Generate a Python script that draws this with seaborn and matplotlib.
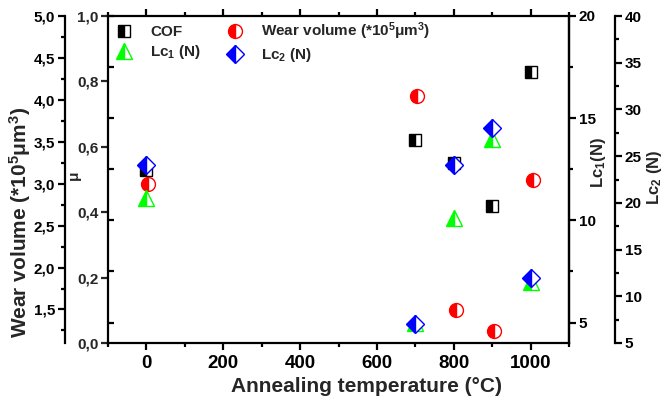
import matplotlib
matplotlib.use("Agg")
import matplotlib.pyplot as plt
import numpy as np
import pandas as pd
import seaborn as sns
from matplotlib.ticker import FuncFormatter, MultipleLocator, FixedLocator

# ---- data ----
temperature = [0, 700, 800, 900, 1000]
wear_temperature = [5, 705, 805, 905, 1005]
cof = [0.53, 0.62, 0.55, 0.42, 0.83]
wear_volume = [3.00, 4.04, 1.49, 1.24, 3.04]
lc1 = [11.1, 5.0, 10.1, 14.0, 7.0]
lc2 = [24.0, 7.0, 24.0, 28.0, 12.0]

x_ticks = [0, 200, 400, 600, 800, 1000]
mu_ticks = [0.0, 0.2, 0.4, 0.6, 0.8, 1.0]
wear_ticks = [1.5, 2.0, 2.5, 3.0, 3.5, 4.0, 4.5, 5.0]
lc1_ticks = [5, 10, 15, 20]
lc2_ticks = [5, 10, 15, 20, 25, 30, 35, 40]

labels = {
    "cof": "COF",
    "wear": "Wear volume (*10$^5$\u03bcm$^3$)",
    "lc1": "Lc$_1$ (N)",
    "lc2": "Lc$_2$ (N)",
}

sns.set_theme(style="white")
plt.rcParams["font.family"] = ["Liberation Sans", "DejaVu Sans"]
plt.rcParams["font.weight"] = "bold"
plt.rcParams["axes.labelweight"] = "bold"
plt.rcParams["mathtext.fontset"] = "custom"
plt.rcParams["mathtext.rm"] = "Liberation Sans:bold"
plt.rcParams["mathtext.it"] = "Liberation Sans:bold"
plt.rcParams["mathtext.bf"] = "Liberation Sans:bold"
plt.rcParams["mathtext.default"] = "bf"

df = pd.DataFrame({"temperature": temperature, "cof": cof, "lc1": lc1, "lc2": lc2})
dfw = pd.DataFrame({"temperature": wear_temperature, "wear": wear_volume})

W, H = 667, 404
fig = plt.figure(figsize=(W / 100, H / 100), dpi=100)
L, R, T, B = 108, 569, 16, 343
ax = fig.add_axes([L / W, 1 - B / H, (R - L) / W, (B - T) / H])
ax.set_facecolor("white")

comma = FuncFormatter(lambda v, p: f"{v:.1f}".replace(".", ","))
intfmt = FuncFormatter(lambda v, p: f"{v:.0f}")
SPW = 1.6

# main axis: COF (mu)
sns.lineplot(data=df, x="temperature", y="cof", ax=ax, marker="s", linestyle="",
             markersize=9, fillstyle="left", color="black", markerfacecoloralt="white",
             markeredgecolor="black", markeredgewidth=1.0, label=labels["cof"],
             legend=False, sort=False)
ax.set_xlim(-100, 1100)
ax.set_ylim(0, 1.0)
ax.xaxis.set_major_locator(FixedLocator(x_ticks))
ax.xaxis.set_minor_locator(MultipleLocator(100))
ax.yaxis.set_major_locator(FixedLocator(mu_ticks))
ax.yaxis.set_major_formatter(comma)
ax.tick_params(axis="x", which="both", direction="out", bottom=True, top=True,
               labeltop=False, width=SPW, colors="black")
ax.tick_params(axis="x", which="major", length=5, labelsize=13.5, pad=4)
ax.tick_params(axis="x", which="minor", length=3)
ax.tick_params(axis="y", which="major", direction="out", left=True, right=False,
               length=5, width=SPW, labelsize=11, pad=2)
for s in ax.spines.values():
    s.set_linewidth(SPW)
    s.set_color("black")
ax.set_xlabel("Annealing temperature (\u00b0C)", fontsize=15, fontweight="bold")
ax.xaxis.set_label_coords(0.56, -0.105)
ax.set_ylabel("\u03bc", fontsize=11, fontweight="bold")
ax.yaxis.set_label_coords(-0.074, 0.514)
ax.yaxis.label.set_verticalalignment("center")

# wear volume axis (outer left)
ax_w = ax.twinx()
sns.lineplot(data=dfw, x="temperature", y="wear", ax=ax_w, marker="o", linestyle="",
             markersize=10, fillstyle="left", color="red", markerfacecoloralt="white",
             markeredgecolor="red", markeredgewidth=1.0, label=labels["wear"],
             legend=False, sort=False)
ax_w.set_ylim(1.1, 5.0)
for k, s in ax_w.spines.items():
    s.set_visible(k == "left")
    s.set_linewidth(SPW)
    s.set_color("black")
ax_w.spines["left"].set_position(("axes", -43 / (R - L)))
ax_w.yaxis.set_ticks_position("left")
ax_w.yaxis.set_label_position("left")
ax_w.yaxis.set_major_locator(FixedLocator(wear_ticks))
ax_w.yaxis.set_minor_locator(MultipleLocator(0.25))
ax_w.yaxis.set_major_formatter(comma)
ax_w.tick_params(axis="y", which="both", direction="out", width=SPW, colors="black")
ax_w.tick_params(axis="y", which="major", length=5, labelsize=11, pad=2)
ax_w.tick_params(axis="y", which="minor", length=3)
ax_w.set_ylabel(labels["wear"], fontsize=15, fontweight="bold")
ax_w.yaxis.set_label_coords(-(L - 20) / (R - L), (B - 222) / (B - T))
ax_w.yaxis.label.set_verticalalignment("center")
ax_w.set_xlabel("")

# Lc1 axis (right)
ax_1 = ax.twinx()
sns.lineplot(data=df, x="temperature", y="lc1", ax=ax_1, marker="^", linestyle="",
             markersize=11, fillstyle="left", color="#00ff00", markerfacecoloralt="white",
             markeredgecolor="#00ff00", markeredgewidth=1.0, label=labels["lc1"],
             legend=False, sort=False)
ax_1.set_ylim(4, 20)
for k, s in ax_1.spines.items():
    s.set_visible(k == "right")
    s.set_linewidth(SPW)
    s.set_color("black")
ax_1.yaxis.set_major_locator(FixedLocator(lc1_ticks))
ax_1.yaxis.set_minor_locator(FixedLocator([7.5, 12.5, 17.5]))
ax_1.yaxis.set_major_formatter(intfmt)
ax_1.tick_params(axis="y", which="both", direction="out", right=True, left=False,
                 width=SPW, colors="black")
ax_1.tick_params(axis="y", which="major", length=5, labelsize=11, pad=2)
ax_1.tick_params(axis="y", which="minor", length=3)
ax_1.set_ylabel(labels["lc1"].replace(" ", ""), fontsize=12, fontweight="bold")
ax_1.yaxis.set_label_coords((599 - L) / (R - L), (B - 163) / (B - T))
ax_1.yaxis.label.set_verticalalignment("center")

# Lc2 axis (outer right)
ax_2 = ax.twinx()
sns.lineplot(data=df, x="temperature", y="lc2", ax=ax_2, marker="D", linestyle="",
             markersize=9, fillstyle="left", color="blue", markerfacecoloralt="white",
             markeredgecolor="blue", markeredgewidth=1.0, label=labels["lc2"],
             legend=False, sort=False)
ax_2.set_ylim(5, 40)
for k, s in ax_2.spines.items():
    s.set_visible(k == "right")
    s.set_linewidth(SPW)
    s.set_color("black")
ax_2.spines["right"].set_position(("axes", (615 - L) / (R - L)))
ax_2.yaxis.set_major_locator(FixedLocator(lc2_ticks))
ax_2.yaxis.set_minor_locator(MultipleLocator(2.5))
ax_2.yaxis.set_major_formatter(intfmt)
ax_2.tick_params(axis="y", which="both", direction="out", right=True, left=False,
                 width=SPW, colors="black")
ax_2.tick_params(axis="y", which="major", length=5, labelsize=11, pad=2)
ax_2.tick_params(axis="y", which="minor", length=3)
ax_2.set_ylabel(labels["lc2"], fontsize=12, fontweight="bold")
ax_2.yaxis.set_label_coords((654 - L) / (R - L), (B - 177) / (B - T))
ax_2.yaxis.label.set_verticalalignment("center")

# mirrored inward Lc1 ticks on the left frame
ax_m = ax.twinx()
ax_m.set_ylim(4, 20)
for s in ax_m.spines.values():
    s.set_visible(False)
ax_m.yaxis.set_ticks_position("left")
ax_m.yaxis.set_major_locator(FixedLocator(lc1_ticks))
ax_m.yaxis.set_minor_locator(FixedLocator([7.5, 12.5, 17.5]))
ax_m.tick_params(axis="y", which="both", direction="in", left=True, right=False,
                 labelleft=False, width=SPW, length=4, colors="black")

# legend
handles = []
for a in (ax, ax_1, ax_w, ax_2):
    h, _ = a.get_legend_handles_labels()
    handles += h
leg = ax_m.legend(handles=handles, labels=[h.get_label() for h in handles],
                  ncol=2, loc="upper left", bbox_to_anchor=(0.012, 0.995),
                  frameon=False, fontsize=11, handlelength=1.0, handletextpad=1.2,
                  columnspacing=1.7, labelspacing=0.25, borderpad=0.2,
                  borderaxespad=0)
for t in leg.get_texts():
    t.set_fontweight("bold")

fig.savefig("out.png", dpi=100, facecolor="white")
